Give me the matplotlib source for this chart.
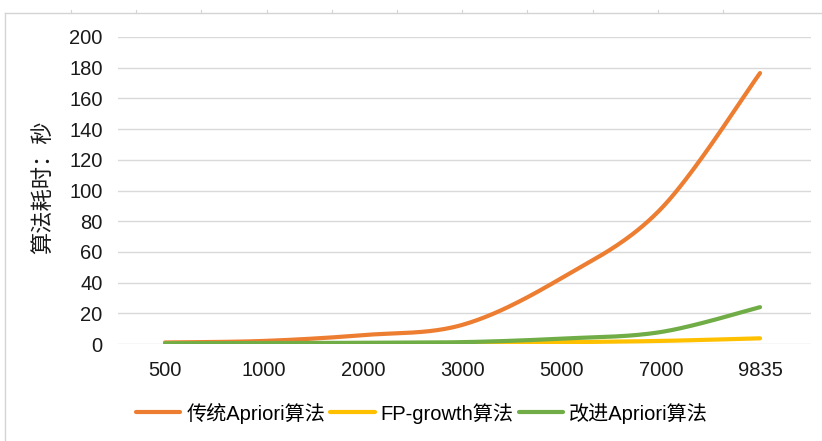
import numpy as np
import matplotlib
matplotlib.use("Agg")
import matplotlib.pyplot as plt
from matplotlib.lines import Line2D

plt.rcParams['font.family'] = ['Liberation Sans', 'Noto Sans CJK SC', 'DejaVu Sans']

# Data
categories = ['500', '1000', '2000', '3000', '5000', '7000', '9835']
apriori = [1.0, 2.0, 5.8, 12.5, 43.0, 88.0, 176.5]
fp_growth = [0.3, 0.4, 0.5, 0.7, 1.2, 2.0, 3.7]
improved = [0.5, 0.6, 0.8, 1.2, 3.5, 7.8, 24.0]

series_names = ['传统Apriori算法', 'FP-growth算法', '改进Apriori算法']
colors = ['#ED7D31', '#FFC000', '#70AD47']


def smooth(xs, ys, n=40):
    """Bezier smoothing through every point (spreadsheet-style smoothed line)."""
    xs = np.asarray(xs, float)
    ys = np.asarray(ys, float)
    px, py = [], []
    m = len(xs)
    for i in range(m - 1):
        x0, y0 = xs[max(i - 1, 0)], ys[max(i - 1, 0)]
        x1, y1 = xs[i], ys[i]
        x2, y2 = xs[i + 1], ys[i + 1]
        x3, y3 = xs[min(i + 2, m - 1)], ys[min(i + 2, m - 1)]
        c1x, c1y = x1 + (x2 - x0) / 6, y1 + (y2 - y0) / 6
        c2x, c2y = x2 - (x3 - x1) / 6, y2 - (y3 - y1) / 6
        t = np.linspace(0, 1, n)
        b0, b1, b2, b3 = (1 - t) ** 3, 3 * (1 - t) ** 2 * t, 3 * (1 - t) * t ** 2, t ** 3
        px.append(b0 * x1 + b1 * c1x + b2 * c2x + b3 * x2)
        py.append(b0 * y1 + b1 * c1y + b2 * c2y + b3 * y2)
    return np.concatenate(px), np.concatenate(py)


fig = plt.figure(figsize=(8.22, 4.41), dpi=100)
W, H = 822, 441

# Light sheet frame around the chart
fig.add_artist(Line2D([5 / W, 1], [1 - 13 / H, 1 - 13 / H], color='#d4d4d4', lw=1.0))
fig.add_artist(Line2D([5 / W, 5 / W], [0, 1 - 13 / H], color='#d4d4d4', lw=1.0))
for k in range(11):
    tx = (71 + 65.2 * k) / W
    fig.add_artist(Line2D([tx, tx], [1 - 13 / H, 1 - 10 / H], color='#d4d4d4', lw=0.8))

ax = fig.add_axes([118 / W, 1 - 344 / H, (811 - 118) / W, (344 - 37) / H])

x = np.arange(len(categories))
for vals, name, c in zip([apriori, fp_growth, improved], series_names, colors):
    sx, sy = smooth(x, vals)
    ax.plot(sx, sy, color=c, lw=3.0, solid_capstyle='round', label=name)

ax.set_xlim(-0.474, 6.514)
ax.set_ylim(0, 200)
ax.set_yticks(np.arange(0, 201, 20))
ax.set_xticks(x)
ax.set_xticklabels(categories)
ax.yaxis.grid(True, color='#d9d9d9', lw=1.0)
ax.set_axisbelow(True)
for s in ax.spines.values():
    s.set_visible(False)
ax.tick_params(axis='both', length=0, labelsize=14.5, colors='#1a1a1a')
ax.tick_params(axis='y', pad=11)
ax.tick_params(axis='x', pad=12)

fig.text(44 / W, 1 - 187 / H, '算法耗时：秒', rotation=90, ha='center', va='center',
         fontsize=16, color='#1a1a1a')

handles = [Line2D([0], [0], color=c, lw=3.0, solid_capstyle='round') for c in colors]
fig.legend(handles, series_names, loc='center', bbox_to_anchor=(422 / W, 1 - 413 / H),
           ncol=3, frameon=False, fontsize=14.5, handlelength=2.2, handletextpad=0.3,
           columnspacing=0.25)

fig.savefig('out.png', dpi=100)
